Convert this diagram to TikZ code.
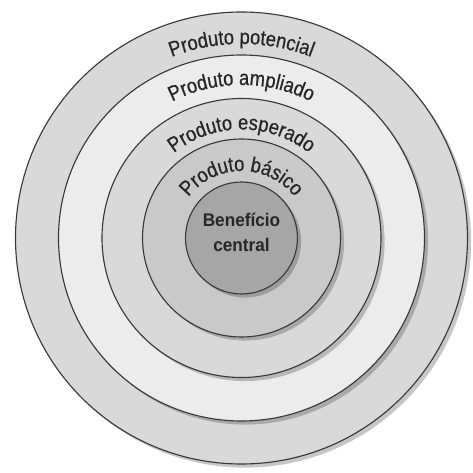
\documentclass[tikz,border=0pt]{standalone}
\usepackage{fontspec}
\setmainfont{Liberation Sans}[FakeStretch=0.94]
\newfontfamily\arcfamily{Liberation Sans}[FakeStretch=0.87, FakeBold=0.6]
\usetikzlibrary{decorations.text, shadows}

\definecolor{potgray}{gray}{0.85}
\definecolor{ampgray}{gray}{0.925}
\definecolor{espgray}{gray}{0.85}
\definecolor{basgray}{gray}{0.79}
\definecolor{cengray}{gray}{0.65}
\newcommand{\arcfont}{\arcfamily\fontsize{15}{17}\selectfont}

\begin{document}
\begin{tikzpicture}[
    ring/.style={circle, draw=black!78, line width=0.8pt, inner sep=0pt,
                 minimum size=#1,
                 drop shadow={shadow xshift=0.09cm, shadow yshift=-0.09cm,
                              opacity=0.22, fill=black}},
    arctext/.style={decorate, decoration={text along path, text align=center,
                    text color=black!85, text={|\arcfont|#1}}}
]
\useasboundingbox (0,0) rectangle (11.825,11.825);
\coordinate (c) at (6.0375,5.875);

% rings, outside in
\node[ring=11.3cm, fill=potgray] (potencial) at (c) {};
\node[ring=9.15cm, fill=ampgray] (ampliado) at (c) {};
\node[ring=6.975cm, fill=espgray] (esperado) at (c) {};
\node[ring=4.95cm, fill=basgray] (basico) at (c) {};
\node[ring=2.8cm, fill=cengray] (central) at (c) {};

% labels on the rings
\path[arctext={Produto potencial}] (c) ++(160:4.85) arc[start angle=160, end angle=20, radius=4.85];
\path[arctext={Produto ampliado}] (c) ++(160:3.825) arc[start angle=160, end angle=20, radius=3.825];
\path[arctext={Produto esperado}] (c) ++(160:2.7125) arc[start angle=160, end angle=20, radius=2.7125];
\path[arctext={Produto básico}] (c) ++(160:1.675) arc[start angle=160, end angle=20, radius=1.675];

\node[align=center, text=black!85, font=\fontsize{13}{17.8}\selectfont\bfseries]
    (beneficio) at ([yshift=0.15cm]central.center) {Benefício\\central};
\end{tikzpicture}
\end{document}
